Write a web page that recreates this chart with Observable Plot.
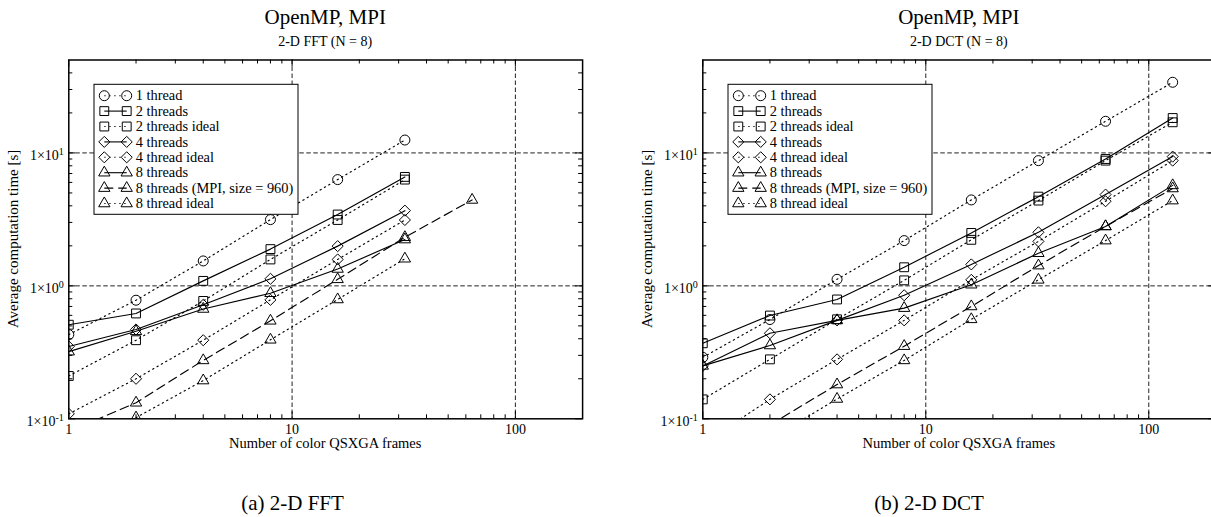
<!DOCTYPE html>
<html><head><meta charset="utf-8">
<script src="https://cdn.jsdelivr.net/npm/d3@7"></script>
<script src="https://cdn.jsdelivr.net/npm/@observablehq/plot@0.6"></script>
<style>
html,body{margin:0;padding:0;background:#fff;overflow:hidden;width:1211px;height:517px}
#wrap{position:relative;width:1211px;height:517px;overflow:hidden}
.panel{position:absolute;top:0}
</style></head><body><div id="wrap"></div>
<script>
// ---------- data ----------
const legendLabels = ["1 thread","2 threads","2 threads ideal","4 threads","4 thread ideal","8 threads","8 threads (MPI, size = 960)","8 thread ideal"];
const xTickValues = [1, 10, 100];
const yTickValues = [0.1, 1, 10];

// (a) 2-D FFT
const fftFrames = [1, 2, 4, 8, 16, 32];
const fft1 = [0.43, 0.78, 1.54, 3.15, 6.3, 12.5];
const fft2 = [0.51, 0.62, 1.09, 1.89, 3.44, 6.6];
const fft2Ideal = [0.21, 0.39, 0.77, 1.58, 3.13, 6.3];
const fft4 = [0.35, 0.47, 0.72, 1.13, 1.99, 3.68];
const fft4Ideal = [0.109, 0.2, 0.39, 0.785, 1.58, 3.13];
const fft8 = [0.32, 0.455, 0.67, 0.88, 1.34, 2.23];
const fftMpiFrames = [1, 2, 4, 8, 16, 32, 64];
const fft8Mpi = [0.08, 0.132, 0.275, 0.546, 1.12, 2.32, 4.43];
const fft8IdealFrames = [2, 4, 8, 16, 32];
const fft8Ideal = [0.102, 0.194, 0.393, 0.79, 1.6];

// (b) 2-D DCT
const dctFrames = [1, 2, 4, 8, 16, 32, 64, 128];
const dct1 = [0.29, 0.558, 1.12, 2.19, 4.43, 8.75, 17.3, 34];
const dct2 = [0.37, 0.598, 0.79, 1.38, 2.5, 4.69, 9.0, 18.3];
const dct2Ideal = [0.14, 0.28, 0.56, 1.1, 2.22, 4.38, 8.75, 17.0];
const dct4 = [0.25, 0.44, 0.55, 0.85, 1.45, 2.53, 4.86, 9.38];
const dct4Ideal = [0.065, 0.14, 0.28, 0.55, 1.11, 2.16, 4.33, 8.75];
const dct8 = [0.25, 0.356, 0.55, 0.68, 1.02, 1.76, 2.8, 5.7];
const dctMpiFrames = [2, 4, 8, 16, 32, 64, 128];
const dct8Mpi = [0.09, 0.181, 0.352, 0.70, 1.42, 2.8, 5.4];
const dct8IdealFrames = [2, 4, 8, 16, 32, 64, 128];
const dct8Ideal = [0.07, 0.141, 0.275, 0.56, 1.11, 2.19, 4.38];

// ---------- styles ----------
const FONT = "'Liberation Serif', 'Times New Roman', Times, serif";
const styleList = [
  {symbol: "circle", dash: "dotted"},
  {symbol: "square", dash: "solid"},
  {symbol: "square", dash: "dotted"},
  {symbol: "diamond2", dash: "solid"},
  {symbol: "diamond2", dash: "dotted"},
  {symbol: "triangle", dash: "solid"},
  {symbol: "triangle", dash: "dashed"},
  {symbol: "triangle", dash: "dotted"}
];
const symR = {circle: 5, square: 5, diamond2: 5, triangle: 4.2};
const dashArr = {solid: null, dotted: "1.3,3.7", dashed: "9,5"};
const d3Sym = {circle: d3.symbolCircle, square: d3.symbolSquare, diamond2: d3.symbolDiamond2, triangle: d3.symbolTriangle};

const H = 517, MT = 59.5, MB = 98.7;
const innerH = H - MT - MB;
const xMinor = [2,3,4,5,6,7,8,9,20,30,40,50,60,70,80,90];
const yMinor = [0.2,0.3,0.4,0.5,0.6,0.7,0.8,0.9,2,3,4,5,6,7,8,9,20,30,40];

function rows(xs, ys) { return xs.map((x, i) => ({x, y: ys[i]})); }

function decorations(cfg) {
  return () => {
    const g = d3.create("svg:g").attr("font-family", FONT).attr("fill", "black").attr("text-anchor", "middle");
    const fl = cfg.ML, fr = cfg.W - cfg.MR, cx = (fl + fr) / 2;
    g.append("text").attr("x", cx).attr("y", 24).attr("font-size", 21).text(cfg.title);
    g.append("text").attr("x", cx).attr("y", 46).attr("font-size", 14).text(cfg.subtitle);
    g.append("text").attr("x", cx).attr("y", 448).attr("font-size", 14.5).text("Number of color QSXGA frames");
    g.append("text").attr("transform", `translate(${fl - 50.5},${MT + innerH / 2}) rotate(-90)`).attr("font-size", 15).text("Average computation time [s]");
    g.append("text").attr("x", cfg.capX).attr("y", 510).attr("font-size", 21).text(cfg.caption);
    // legend
    const bx = fl + 25.7, by = 84.3, bw = 204, bh = 130;
    g.append("rect").attr("x", bx).attr("y", by).attr("width", bw).attr("height", bh).attr("fill", "white").attr("stroke", "black").attr("stroke-width", 1);
    legendLabels.forEach((lab, i) => {
      const st = styleList[i];
      const yc = by + 11.4 + 15.4 * i;
      const x1 = bx + 10.3, x2 = bx + 32.7;
      const ln = g.append("line").attr("x1", x1).attr("x2", x2).attr("y1", yc).attr("y2", yc).attr("stroke", "black").attr("stroke-width", 1.1);
      if (dashArr[st.dash]) ln.attr("stroke-dasharray", dashArr[st.dash]);
      const r = symR[st.symbol];
      for (const xx of [x1, x2]) {
        if (st.symbol === "circle") {
          g.append("circle").attr("cx", xx).attr("cy", yc).attr("r", r).attr("fill", "none").attr("stroke", "black").attr("stroke-width", 1);
        } else {
          g.append("path").attr("transform", `translate(${xx},${yc})`).attr("d", d3.symbol(d3Sym[st.symbol], Math.PI * r * r)()).attr("fill", "none").attr("stroke", "black").attr("stroke-width", 1);
        }
      }
      g.append("text").attr("x", bx + 41.7).attr("y", yc + 4.6).attr("text-anchor", "start").attr("font-size", 14.4).text(lab);
    });
    return g.node();
  };
}

function makeChart(cfg) {
  const tickLen = 7, minorLen = 4;
  const innerW = cfg.W - cfg.ML - cfg.MR;
  const marks = [
    Plot.ruleX([10, 100], {stroke: "#222", strokeWidth: 1, strokeDasharray: "4.5,2.5"}),
    Plot.ruleY([1, 10], {stroke: "#222", strokeWidth: 1, strokeDasharray: "4.5,2.5"}),
    // ticks (inward, mirrored)
    Plot.ruleX(xTickValues, {stroke: "black", insetTop: innerH - tickLen}),
    Plot.ruleX(xTickValues, {stroke: "black", insetBottom: innerH - tickLen}),
    Plot.ruleX(xMinor, {stroke: "black", insetTop: innerH - minorLen}),
    Plot.ruleX(xMinor, {stroke: "black", insetBottom: innerH - minorLen}),
    Plot.ruleY(yTickValues, {stroke: "black", insetRight: innerW - tickLen}),
    Plot.ruleY(yTickValues, {stroke: "black", insetLeft: innerW - tickLen}),
    Plot.ruleY(yMinor, {stroke: "black", insetRight: innerW - minorLen}),
    Plot.ruleY(yMinor, {stroke: "black", insetLeft: innerW - minorLen})
  ];
  cfg.series.forEach((s, i) => {
    const st = styleList[i];
    const lo = {x: "x", y: "y", stroke: "black", strokeWidth: 1.15, clip: true};
    if (dashArr[st.dash]) lo.strokeDasharray = dashArr[st.dash];
    marks.push(Plot.line(rows(s[0], s[1]), lo));
  });
  cfg.series.forEach((s, i) => {
    const st = styleList[i];
    marks.push(Plot.dot(rows(s[0], s[1]), {x: "x", y: "y", symbol: st.symbol, r: symR[st.symbol], stroke: "black", fill: "none", strokeWidth: 1, clip: true}));
  });
  marks.push(Plot.frame({stroke: "black", strokeWidth: 1.5}));
  marks.push(Plot.axisX(xTickValues, {tickSize: 0, tickPadding: 5, fontSize: 14, label: null, tickFormat: d => String(d)}));
  marks.push(Plot.axisY(yTickValues, {tickSize: 0, tickPadding: 5, fontSize: 14, dy: 3, label: null, tickFormat: d => "1×10^" + Math.round(Math.log10(d))}));
  marks.push(decorations(cfg));

  const svg = Plot.plot({
    width: cfg.W, height: H,
    marginLeft: cfg.ML, marginRight: cfg.MR, marginTop: MT, marginBottom: MB,
    x: {type: "log", domain: [1, 200], axis: null},
    y: {type: "log", domain: [0.1, 50], axis: null},
    style: {fontFamily: FONT, fontSize: "14px", background: "transparent", overflow: "visible", color: "black"},
    marks
  });
  // superscript exponents on y tick labels
  const ns = "http://www.w3.org/2000/svg";
  svg.querySelectorAll('g[aria-label="y-axis tick label"] text').forEach(t => {
    const s = t.textContent;
    if (!s.includes("^")) return;
    const [b, e] = s.split("^");
    t.textContent = "";
    t.append(document.createTextNode(b));
    const ts = document.createElementNS(ns, "tspan");
    ts.setAttribute("dy", "-5");
    ts.setAttribute("font-size", "10");
    ts.textContent = e;
    t.append(ts);
  });
  svg.classList.add("panel");
  svg.style.left = cfg.left + "px";
  document.getElementById("wrap").append(svg);
}

makeChart({
  left: 0, W: 600, ML: 68.3, MR: 17.9,
  title: "OpenMP, MPI", subtitle: "2-D FFT (N = 8)", caption: "(a) 2-D FFT", capX: 292.5,
  series: [[fftFrames, fft1], [fftFrames, fft2], [fftFrames, fft2Ideal], [fftFrames, fft4], [fftFrames, fft4Ideal], [fftFrames, fft8], [fftMpiFrames, fft8Mpi], [fft8IdealFrames, fft8Ideal]]
});
makeChart({
  left: 600, W: 620, ML: 102.3, MR: 4.6,
  title: "OpenMP, MPI", subtitle: "2-D DCT (N = 8)", caption: "(b) 2-D DCT", capX: 329,
  series: [[dctFrames, dct1], [dctFrames, dct2], [dctFrames, dct2Ideal], [dctFrames, dct4], [dctFrames, dct4Ideal], [dctFrames, dct8], [dctMpiFrames, dct8Mpi], [dct8IdealFrames, dct8Ideal]]
});
</script></body></html>
